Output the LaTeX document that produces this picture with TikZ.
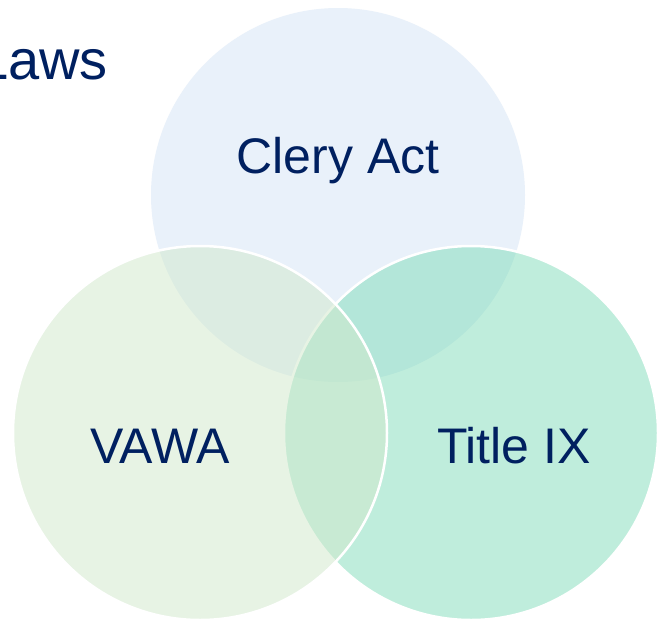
\documentclass[tikz,border=0pt]{standalone}
\usepackage{fontspec}
\setmainfont{Liberation Sans}
\definecolor{navy}{RGB}{0,32,96}
\definecolor{topc}{RGB}{233,241,250}
\definecolor{rightc}{RGB}{115,217,178}
\definecolor{leftc}{RGB}{209,233,203}
\begin{document}
\begin{tikzpicture}[x=1pt,y=-1pt,
  lbl/.style={text=navy,font=\fontsize{50}{60}\selectfont,inner sep=0pt,anchor=base},
  setc/.style={circle,minimum size=374pt,inner sep=0pt}]
\clip (0,0) rectangle (658,621);
\fill[white] (0,0) rectangle (658,621);
\node[setc,fill=topc] (clery) at (338,195) {};
\node[setc,fill=rightc,fill opacity=0.45,draw=white,line width=2.5pt] (title) at (471,433) {};
\node[setc,fill=leftc,fill opacity=0.5,draw=white,line width=2.5pt] (vawa) at (200,433) {};
\node[lbl] (tclery) at (338,173) {Clery Act};
\node[lbl] (tvawa) at (160,463) {VAWA};
\node[lbl] (ttitle) at (514,463) {Title IX};
\node[lbl,anchor=base east,font=\fontsize{56}{66}\selectfont] (laws) at (108,79) {Laws};
\end{tikzpicture}
\end{document}
